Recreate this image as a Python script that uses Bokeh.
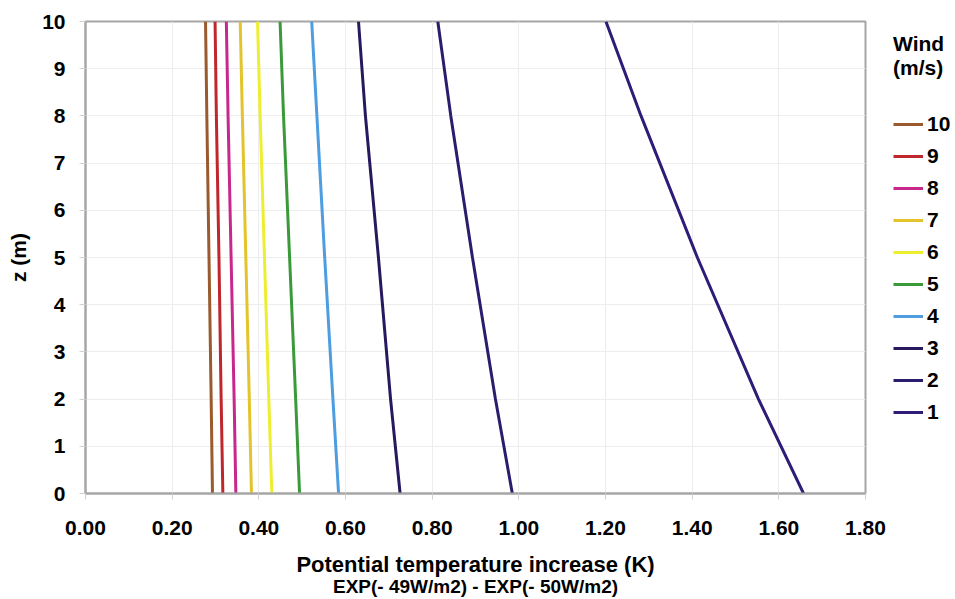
from bokeh.plotting import figure
from bokeh.layouts import row
from bokeh.models import (Range1d, FixedTicker, PrintfTickFormatter, Legend, LegendItem,
                          ColumnDataSource, LinearAxis)
from bokeh.embed import file_html
from bokeh.resources import INLINE

# ---- data ----
z_levels = [0, 2, 5, 8, 10]
wind_labels = ["10", "9", "8", "7", "6", "5", "4", "3", "2", "1"]
wind10 = [0.293, 0.290, 0.285, 0.280, 0.277]
wind9 = [0.317, 0.313, 0.308, 0.302, 0.299]
wind8 = [0.347, 0.343, 0.336, 0.329, 0.325]
wind7 = [0.383, 0.378, 0.370, 0.362, 0.357]
wind6 = [0.430, 0.423, 0.413, 0.403, 0.397]
wind5 = [0.494, 0.485, 0.471, 0.457, 0.449]
wind4 = [0.584, 0.571, 0.552, 0.534, 0.522]
wind3 = [0.726, 0.704, 0.676, 0.646, 0.630]
wind2 = [0.985, 0.946, 0.893, 0.843, 0.813]
wind1 = [1.657, 1.553, 1.412, 1.282, 1.201]
series = [wind10, wind9, wind8, wind7, wind6, wind5, wind4, wind3, wind2, wind1]
colors = ["#9a5a2e", "#c0272d", "#c8288c", "#e3c42c", "#eeee30", "#3a9a3a",
          "#4d9de0", "#28195f", "#2c1c6e", "#2f1b78"]
x_ticks = [0.0, 0.2, 0.4, 0.6, 0.8, 1.0, 1.2, 1.4, 1.6, 1.8]
y_ticks = [0, 1, 2, 3, 4, 5, 6, 7, 8, 9, 10]

FONT = "Liberation Sans"
H = 599
WM, WL = 887, 68          # main figure / legend strip widths
FL, FR, FT, FB = 85, 865, 21, 493  # frame edges

p = figure(width=WM, height=H, output_backend="svg", toolbar_location=None,
           x_range=Range1d(0, 1.8), y_range=Range1d(0, 10),
           min_border_left=FL, min_border_right=WM - FR,
           min_border_top=FT, min_border_bottom=H - FB)
p.background_fill_color = "white"
p.border_fill_color = "white"
p.outline_line_color = "#a6a6a6"
p.outline_line_width = 2

p.xgrid.grid_line_color = "#ededed"
p.ygrid.grid_line_color = "#ededed"
p.xgrid.ticker = FixedTicker(ticks=x_ticks)
p.ygrid.ticker = FixedTicker(ticks=y_ticks)

for ax in (p.xaxis[0], p.yaxis[0]):
    ax.axis_line_color = "#a6a6a6"
    ax.axis_line_width = 2
    ax.major_tick_line_color = "#d0d0d0"
    ax.major_tick_out = 6
    ax.major_tick_in = 0
    ax.minor_tick_line_color = None
    ax.major_label_text_font = FONT
    ax.major_label_text_font_style = "bold"
    ax.major_label_text_font_size = "21px"
    ax.major_label_text_color = "black"
    ax.axis_label_text_font = FONT
    ax.axis_label_text_font_style = "bold"
    ax.axis_label_text_font_size = "21px"
    ax.axis_label_text_color = "black"

p.xaxis.ticker = FixedTicker(ticks=x_ticks)
p.xaxis.formatter = PrintfTickFormatter(format="%.2f")
p.xaxis.major_label_standoff = 21
p.xaxis.axis_label = "Potential temperature increase (K)"
p.xaxis.axis_label_text_font_size = "22px"
p.xaxis.axis_label_standoff = 14

p.yaxis.ticker = FixedTicker(ticks=y_ticks)
p.yaxis.major_label_standoff = 14
p.yaxis.axis_label = "z (m)"
p.yaxis.axis_label_standoff = 9

# second line of the x-axis title
sub_axis = LinearAxis(ticker=FixedTicker(ticks=[]), axis_line_color=None,
                      major_tick_line_color=None, minor_tick_line_color=None,
                      major_tick_out=0, major_tick_in=0,
                      major_label_standoff=0, axis_label_standoff=-4,
                      axis_label="EXP(- 49W/m2) - EXP(- 50W/m2)",
                      axis_label_text_font=FONT, axis_label_text_font_style="bold",
                      axis_label_text_font_size="19px", axis_label_text_color="black")
p.add_layout(sub_axis, "below")

for vals, col in zip(series, colors):
    src = ColumnDataSource(dict(x=vals, z=z_levels))
    p.line("x", "z", source=src, line_color=col, line_width=3)

# legend strip to the right of the plot (same series, drawn outside its visible range)
lf = figure(width=WL, height=H, output_backend="svg", toolbar_location=None,
            x_range=Range1d(100, 101), y_range=Range1d(100, 101),
            min_border_left=0, min_border_right=0, min_border_top=0, min_border_bottom=0)
lf.outline_line_color = None
lf.background_fill_color = "white"
lf.border_fill_color = "white"
lf.xaxis.visible = False
lf.yaxis.visible = False
lf.xgrid.visible = False
lf.ygrid.visible = False

items = []
for lab, vals, col in zip(wind_labels, series, colors):
    src = ColumnDataSource(dict(x=vals, z=z_levels))
    r = lf.line("x", "z", source=src, line_color=col, line_width=3)
    items.append(LegendItem(label=lab, renderers=[r]))

legend = Legend(items=items, location=(6, 69),
                title="Wind\n(m/s)", title_location="above", title_standoff=32,
                title_text_font=FONT, title_text_font_style="bold",
                title_text_font_size="21px", title_text_color="black",
                title_text_line_height=1.3,
                glyph_width=30, glyph_height=20, label_height=20, spacing=8,
                label_standoff=4, padding=0, margin=0,
                border_line_color=None, background_fill_alpha=0,
                label_text_font=FONT, label_text_font_style="bold",
                label_text_font_size="21px", label_text_color="black")
lf.add_layout(legend, "center")

layout = row(p, lf)
open("out.html", "w").write(file_html(layout, INLINE))
